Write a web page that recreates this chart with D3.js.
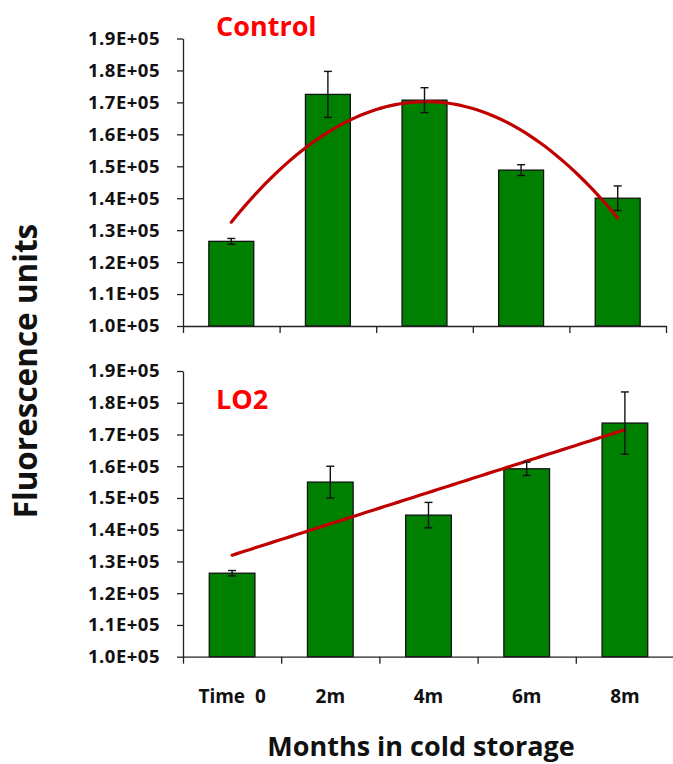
<!DOCTYPE html>
<html>
<head>
<meta charset="utf-8">
<script src="https://cdn.jsdelivr.net/npm/d3@7"></script>
<style>
    body { margin: 0; background: #fff; }
    svg { display: block; }
    text { font-family: "Open Sans", sans-serif; font-weight: bold; }
</style>
</head>
<body>
<svg id="chart" width="673" height="764"></svg>
<script>
// data
var categories = ["Time  0", "2m", "4m", "6m", "8m"]
var controlVals = [126500, 172500, 170700, 148800, 140000]
var controlErr = [900, 7200, 3900, 1700, 3850]
var lo2Vals = [126300, 155000, 144600, 159200, 173600]
var lo2Err = [850, 5000, 4000, 2100, 9800]
var yTicks = [100000, 110000, 120000, 130000, 140000, 150000, 160000, 170000, 180000, 190000]

var svg = d3.select('#chart')

// least squares polynomial fit (degree 1 or 2), like the excel trendline
function polyfit(xs, ys, deg) {
    var n = deg + 1
    var A = [], b = []
    for (let i = 0; i < n; i++) {
        A.push([])
        for (let j = 0; j < n; j++) A[i].push(d3.sum(xs, x => Math.pow(x, i + j)))
        b.push(d3.sum(xs, (x, k) => ys[k] * Math.pow(x, i)))
    }
    // gauss elimination
    for (let i = 0; i < n; i++) {
        for (let r = i + 1; r < n; r++) {
            var f = A[r][i] / A[i][i]
            for (let c = i; c < n; c++) A[r][c] -= f * A[i][c]
            b[r] -= f * b[i]
        }
    }
    var coef = new Array(n).fill(0)
    for (let i = n - 1; i >= 0; i--) {
        var s = b[i]
        for (let c = i + 1; c < n; c++) s -= A[i][c] * coef[c]
        coef[i] = s / A[i][i]
    }
    return x => d3.sum(coef, (c, i) => c * Math.pow(x, i))
}

function drawPanel(conf) {
    var g = svg.append('g')

    var x = d3.scaleBand().domain(categories).range([conf.left, conf.right])
        .paddingInner(0.535).paddingOuter(0.2675)
    var xEdge = d3.scaleLinear().domain([0, categories.length]).range([conf.left, conf.right])
    var y = d3.scaleLinear().domain([100000, 190000]).range([conf.bottom, conf.top])

    // bars
    g.selectAll('rect.bar').data(conf.vals).enter().append('rect')
        .attr('class', 'bar')
        .attr('x', (d, i) => x(categories[i]))
        .attr('y', d => y(d))
        .attr('width', x.bandwidth())
        .attr('height', d => conf.bottom - y(d))
        .attr('fill', '#008000')
        .attr('stroke', '#111')
        .attr('stroke-width', 1.3)

    // trendline
    var xs = d3.range(categories.length).map(i => i + 1)
    var fit = polyfit(xs, conf.vals, conf.deg)
    var cx = t => x(categories[0]) + x.bandwidth() / 2 + (t - 1) * x.step()
    var pts = d3.range(1, 5.001, 0.05).map(t => [cx(t), y(fit(t))])
    g.append('path')
        .attr('d', d3.line()(pts))
        .attr('fill', 'none')
        .attr('stroke', '#c00000')
        .attr('stroke-width', 3.2)
        .attr('stroke-linecap', 'round')

    // error bars
    conf.vals.forEach((v, i) => {
        var mx = x(categories[i]) + x.bandwidth() / 2
        var e = conf.err[i]
        var eg = g.append('g').attr('stroke', '#111').attr('stroke-width', 1.4)
        eg.append('line').attr('x1', mx).attr('x2', mx).attr('y1', y(v + e)).attr('y2', y(v - e))
        eg.append('line').attr('x1', mx - 4).attr('x2', mx + 4).attr('y1', y(v + e)).attr('y2', y(v + e))
        eg.append('line').attr('x1', mx - 4).attr('x2', mx + 4).attr('y1', y(v - e)).attr('y2', y(v - e))
    })

    // y axis
    var yAxis = g.append('g')
        .attr('transform', 'translate(' + conf.left + ',0)')
        .call(d3.axisLeft(y).tickValues(yTicks).tickSize(6).tickSizeOuter(0).tickPadding(17)
            .tickFormat(d => (d / 100000).toFixed(1) + 'E+05'))
    yAxis.selectAll('text').attr('font-size', 18.5).attr('fill', '#111')
        .attr('letter-spacing', 0.5).attr('font-family', '"Open Sans"')
    yAxis.select('.domain').attr('stroke', '#222').attr('stroke-width', 1.3)
    yAxis.selectAll('.tick line').attr('stroke', '#222').attr('stroke-width', 1.3)

    // x axis (ticks at the category edges)
    var xAxis = g.append('g')
        .attr('transform', 'translate(0,' + conf.bottom + ')')
        .call(d3.axisBottom(xEdge).tickValues(d3.range(categories.length + 1)).tickSize(7)
            .tickSizeOuter(0).tickFormat(''))
    xAxis.select('.domain').attr('stroke', '#222').attr('stroke-width', 1.3)
    xAxis.selectAll('.tick line').attr('stroke', '#222').attr('stroke-width', 1.3)

    if (conf.labels) {
        g.selectAll('text.cat').data(categories).enter().append('text')
            .attr('class', 'cat')
            .attr('x', d => x(d) + x.bandwidth() / 2)
            .attr('y', conf.bottom + 46.5)
            .attr('text-anchor', 'middle')
            .attr('font-size', 19)
            .attr('fill', '#111')
            .style('white-space', 'pre')
            .text(d => d)
    }

    // panel title
    g.append('text')
        .attr('x', conf.titleX)
        .attr('y', conf.titleY)
        .attr('font-size', 27)
        .attr('fill', '#ff0000')
        .text(conf.title)
}

drawPanel({ left: 183, right: 666, top: 38.5, bottom: 326, vals: controlVals, err: controlErr,
    deg: 2, title: 'Control', titleX: 216, titleY: 36, labels: false })
drawPanel({ left: 183, right: 674, top: 371, bottom: 656.7, vals: lo2Vals, err: lo2Err,
    deg: 1, title: 'LO2', titleX: 216, titleY: 409, labels: true })

// axis titles
svg.append('text')
    .attr('transform', 'translate(37,371) rotate(-90)')
    .attr('text-anchor', 'middle')
    .attr('font-size', 31.5)
    .attr('fill', '#111')
    .text('Fluorescence units')

svg.append('text')
    .attr('x', 421)
    .attr('y', 756)
    .attr('text-anchor', 'middle')
    .attr('font-size', 27)
    .attr('fill', '#111')
    .text('Months in cold storage')
</script>
</body>
</html>
